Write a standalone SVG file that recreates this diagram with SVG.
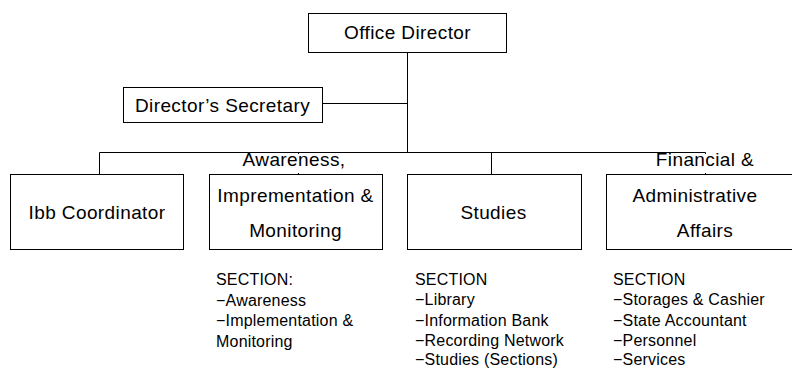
<svg xmlns="http://www.w3.org/2000/svg" width="792" height="369" viewBox="0 0 792 369">
  <style>
    .box { fill: #ffffff; stroke: #000000; stroke-width: 1; }
    .wire { fill: none; stroke: #000000; stroke-width: 1; }
    .label { font-family: "Liberation Sans", Arial, sans-serif; font-size: 19px; letter-spacing: 0.4px; fill: #000000; text-anchor: middle; }
    .list { font-family: "Liberation Sans", Arial, sans-serif; font-size: 16px; letter-spacing: 0.2px; fill: #000000; }
    .mask { fill: #ffffff; }
  </style>
  <rect width="792" height="369" fill="#ffffff"/>

  <!-- connectors -->
  <g id="connectors">
    <path class="wire" d="M407.5 52 V152.5"/>
    <path class="wire" d="M322 103.5 H407.5"/>
    <path class="wire" d="M99.5 152.5 H705.5"/>
    <path class="wire" d="M99.5 152.5 V174"/>
    <path class="wire" d="M298.5 152.5 V174"/>
    <path class="wire" d="M491.5 152.5 V174"/>
    <path class="wire" d="M705.5 152.5 V174"/>
  </g>

  <g id="office-director">
    <rect class="box" x="308.5" y="13.5" width="198" height="39"/>
    <text class="label" x="407.5" y="39">Office Director</text>
  </g>

  <g id="directors-secretary">
    <rect class="box" x="123.5" y="87.5" width="199" height="35"/>
    <text class="label" x="222.5" y="111.5">Director’s Secretary</text>
  </g>

  <g id="ibb-coordinator">
    <rect class="box" x="10.5" y="174.5" width="173" height="75"/>
    <text class="label" x="97" y="218.5">Ibb Coordinator</text>
  </g>

  <g id="awareness">
    <rect class="box" x="209.5" y="174.5" width="173" height="75"/>
    <rect class="mask" x="246" y="154" width="93" height="19"/>
    <text class="label" x="294" y="166">Awareness,</text>
    <text class="label" x="295.5" y="201.5">Imprementation &amp;</text>
    <text class="label" x="295.5" y="237">Monitoring</text>
  </g>

  <g id="studies">
    <rect class="box" x="407.5" y="174.5" width="174" height="75"/>
    <text class="label" x="493.5" y="218.5">Studies</text>
  </g>

  <g id="financial-administrative">
    <rect class="box" x="606.5" y="174.5" width="200" height="75"/>
    <rect class="mask" x="655" y="154" width="100" height="19"/>
    <text class="label" x="705" y="166">Financial &amp;</text>
    <text class="label" x="695" y="201.5">Administrative</text>
    <text class="label" x="705" y="237">Affairs</text>
  </g>

  <g id="awareness-sections">
    <text class="list" x="216" y="285">SECTION:</text>
    <text class="list" x="216" y="305.5">−Awareness</text>
    <text class="list" x="216" y="326">−Implementation &amp;</text>
    <text class="list" x="216" y="346.5">Monitoring</text>
  </g>

  <g id="studies-sections">
    <text class="list" x="415" y="284.5">SECTION</text>
    <text class="list" x="415" y="305">−Library</text>
    <text class="list" x="415" y="325.5">−Information Bank</text>
    <text class="list" x="415" y="346">−Recording Network</text>
    <text class="list" x="415" y="364.5">−Studies (Sections)</text>
  </g>

  <g id="financial-sections">
    <text class="list" x="613" y="284.5">SECTION</text>
    <text class="list" x="613" y="305">−Storages &amp; Cashier</text>
    <text class="list" x="613" y="325.5">−State Accountant</text>
    <text class="list" x="613" y="346">−Personnel</text>
    <text class="list" x="613" y="364.5">−Services</text>
  </g>
</svg>
